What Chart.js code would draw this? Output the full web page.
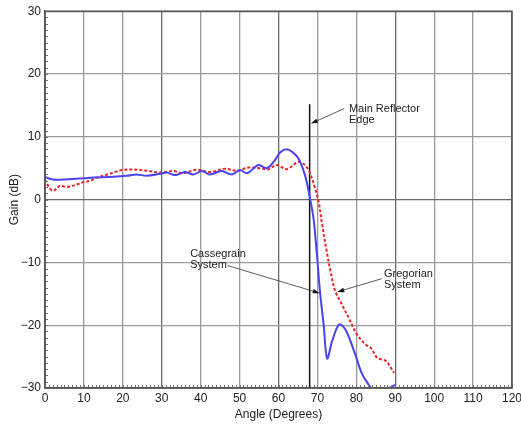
<!DOCTYPE html>
<html>
<head>
<meta charset="utf-8">
<script src="https://cdn.jsdelivr.net/npm/chart.js@4.4.0/dist/chart.umd.min.js"></script>
<style>
  html, body { margin: 0; padding: 0; background: #ffffff; }
  #wrap { width: 521px; height: 428px; }
</style>
</head>
<body>
<div id="wrap"><canvas id="c" width="521" height="428"></canvas></div>
<script>
// Cassegrain System (blue, solid)
const cassX = [0, 2, 6, 10, 12.4, 17.6, 21, 23.6, 26.1, 29.6, 31.3, 33.4, 36, 38.1, 40.3, 42.4, 45.4, 48, 50.1, 52, 54.8, 57, 59.1, 60.4, 62.1, 63.5, 65.1, 66.8, 68.1, 69, 69.8, 70.7, 71.6, 72.5, 73.8, 75.6, 77.2, 79.4, 81.5, 83.7, 85, 87, 88.5, 90];
const cassY = [3.6, 3.2, 3.25, 3.4, 3.5, 3.65, 3.8, 4.0, 3.8, 4.1, 4.3, 3.9, 4.4, 4.0, 4.55, 4.0, 4.55, 4.0, 4.7, 4.2, 5.5, 5.0, 6.3, 7.5, 8.0, 7.6, 6.6, 3.9, 0.2, -3.0, -8.2, -14.9, -19.9, -25.3, -22.5, -19.9, -20.7, -24.1, -27.8, -30, -31.5, -31.5, -30.0, -29.5];

// Gregorian System (red, dotted)
const gregX = [0, 1, 2.1, 3.9, 5.6, 8.1, 10, 11.6, 13.3, 15, 17.6, 19.7, 22.7, 26.1, 29.6, 33, 35.4, 39, 42.4, 46.3, 49.3, 52.3, 55.3, 57.2, 59.6, 62.1, 65.1, 66.8, 68.1, 69.4, 70.3, 71.1, 72.4, 73.5, 74.6, 76.3, 78, 80.2, 82.4, 83.7, 85.4, 87.6, 89.7];
const gregY = [3.2, 2.0, 1.4, 2.2, 2.0, 2.4, 2.8, 3.0, 3.5, 3.8, 4.3, 4.7, 4.8, 4.6, 4.3, 4.55, 4.2, 4.75, 4.4, 4.9, 4.6, 5.1, 5.0, 4.8, 5.5, 4.85, 6.0, 5.5, 4.2, 1.8, -0.3, -3.5, -8.3, -11.8, -14.6, -16.7, -18.8, -21.5, -23.1, -23.6, -25.2, -25.7, -27.6];

// Main reflector edge marker
const edgeX = [68, 68];
const edgeY = [-30, 15.2];

// Axes
const xMin = 0, xMax = 120, xStep = 10;
const yMin = -30, yMax = 30, yStep = 10;
const xTitle = 'Angle (Degrees)';
const yTitle = 'Gain (dB)';

// Annotations
const notes = [
  { lines: ['Main Reflector', 'Edge'], tx: 78.1, ty: 14.4, fx: 76.9, fy: 14.5, toX: 68.3, toY: 12.1 },
  { lines: ['Cassegrain', 'System'], tx: 37.3, ty: -8.7, fx: 46.9, fy: -10.5, toX: 70.6, toY: -14.9 },
  { lines: ['Gregorian', 'System'], tx: 87.1, ty: -11.9, fx: 86.5, fy: -12.6, toX: 75.1, toY: -14.7 }
];

const FONT = '"Liberation Sans", Arial, Helvetica, sans-serif';

const toPts = (xs, ys) => xs.map((x, i) => ({ x: x, y: ys[i] }));

const overlay = {
  id: 'overlay',
  afterDatasetsDraw(chart) {
    const ctx = chart.ctx;
    const xs = chart.scales.x, ys = chart.scales.y;
    const a = chart.chartArea;
    ctx.save();
    // minor ticks
    ctx.strokeStyle = '#777';
    ctx.lineWidth = 1;
    ctx.beginPath();
    for (let v = xMin; v <= xMax; v += 1) {
      const px = Math.round(xs.getPixelForValue(v)) + 0.5;
      ctx.moveTo(px, a.bottom);
      ctx.lineTo(px, a.bottom - 3);
    }
    for (let v = yMin; v <= yMax; v += 1) {
      const py = Math.round(ys.getPixelForValue(v)) + 0.5;
      ctx.moveTo(a.left, py);
      ctx.lineTo(a.left + 3, py);
    }
    ctx.stroke();
    // frame
    ctx.strokeStyle = '#555';
    ctx.lineWidth = 1.5;
    ctx.strokeRect(a.left, a.top, a.right - a.left, a.bottom - a.top);

    // annotations
    ctx.fillStyle = '#222';
    ctx.font = '11px ' + FONT;
    ctx.textAlign = 'left';
    ctx.textBaseline = 'middle';
    notes.forEach(n => {
      const tx = xs.getPixelForValue(n.tx);
      const ty = ys.getPixelForValue(n.ty);
      n.lines.forEach((l, i) => ctx.fillText(l, tx, ty + i * 10.7));
      const x1 = xs.getPixelForValue(n.fx), y1 = ys.getPixelForValue(n.fy);
      const x2 = xs.getPixelForValue(n.toX), y2 = ys.getPixelForValue(n.toY);
      const ang = Math.atan2(y2 - y1, x2 - x1);
      const L = 7, W = 2.3;
      ctx.strokeStyle = '#333';
      ctx.lineWidth = 0.8;
      ctx.beginPath();
      ctx.moveTo(x1, y1);
      ctx.lineTo(x2 - Math.cos(ang) * L, y2 - Math.sin(ang) * L);
      ctx.stroke();
      ctx.fillStyle = '#111';
      ctx.beginPath();
      ctx.moveTo(x2, y2);
      ctx.lineTo(x2 - Math.cos(ang) * L - Math.sin(ang) * W, y2 - Math.sin(ang) * L + Math.cos(ang) * W);
      ctx.lineTo(x2 - Math.cos(ang) * L + Math.sin(ang) * W, y2 - Math.sin(ang) * L - Math.cos(ang) * W);
      ctx.closePath();
      ctx.fill();
      ctx.fillStyle = '#222';
    });

    // axis titles
    ctx.font = '12px ' + FONT;
    ctx.fillStyle = '#222';
    ctx.textAlign = 'center';
    ctx.textBaseline = 'middle';
    ctx.fillText(xTitle, (a.left + a.right) / 2, 415);
    ctx.translate(15, (a.top + a.bottom) / 2);
    ctx.rotate(-Math.PI / 2);
    ctx.fillText(yTitle, 0, 0);
    ctx.restore();
  }
};

const gridColor = (major) => (c) => {
  const v = c.tick ? c.tick.value : null;
  return major.includes(v) ? '#6a6a6a' : '#9a9a9a';
};

new Chart(document.getElementById('c'), {
  type: 'line',
  data: {
    datasets: [
      {
        label: 'Cassegrain System',
        data: toPts(cassX, cassY),
        borderColor: '#4a43ee',
        borderWidth: 2,
        pointRadius: 0,
        tension: 0.35,
        fill: false
      },
      {
        label: 'Gregorian System',
        data: toPts(gregX, gregY),
        borderColor: '#e8262a',
        borderWidth: 2,
        borderDash: [3, 2],
        pointRadius: 0,
        tension: 0.35,
        fill: false
      },
      {
        label: 'Main Reflector Edge',
        data: toPts(edgeX, edgeY),
        borderColor: '#111',
        borderWidth: 1.5,
        pointRadius: 0,
        tension: 0,
        fill: false
      }
    ]
  },
  options: {
    responsive: false,
    animation: false,
    events: [],
    layout: { padding: { top: 10, right: 9, left: 0, bottom: 0 } },
    plugins: { legend: { display: false }, tooltip: { enabled: false } },
    scales: {
      x: {
        type: 'linear',
        min: xMin, max: xMax,
        afterFit: s => { s.height = 40; s.paddingRight = 0; s.paddingLeft = 0; },
        ticks: { stepSize: xStep, color: '#222', font: { family: FONT, size: 12 }, padding: 3, maxRotation: 0 },
        grid: { color: gridColor([0, 30, 60, 90, 120]), lineWidth: 1.3, drawTicks: false },
        border: { color: '#555', width: 1.5 }
      },
      y: {
        type: 'linear',
        min: yMin, max: yMax,
        afterFit: s => { s.width = 45; },
        ticks: {
          stepSize: yStep, color: '#222', font: { family: FONT, size: 12 }, padding: 4,
          callback: v => (v < 0 ? '\u2212' + Math.abs(v) : String(v))
        },
        grid: { color: gridColor([0, 30, -30]), lineWidth: 1.3, drawTicks: false },
        border: { color: '#555', width: 1.5 }
      }
    }
  },
  plugins: [overlay]
});
</script>
</body>
</html>
